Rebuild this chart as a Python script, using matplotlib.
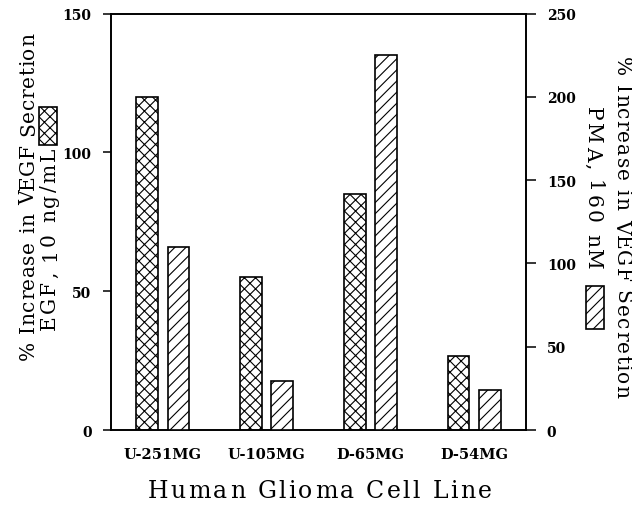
"""Dual-axis hatched bar chart: VEGF secretion increase per glioma cell line."""
import matplotlib
matplotlib.use("Agg")
import matplotlib.pyplot as plt
import numpy as np
from matplotlib.font_manager import FontProperties
from matplotlib.patches import Rectangle
from matplotlib.transforms import IdentityTransform

plt.rcParams["font.family"] = "DejaVu Serif"
plt.rcParams["hatch.linewidth"] = 0.8

cell_lines = ["U-251MG", "U-105MG", "D-65MG", "D-54MG"]
egf_increase = [120, 55, 85, 26.5]    # left axis, EGF 10 ng/mL
pma_increase = [110, 29.5, 225, 24]   # right axis, PMA 160 nM

left_ticks = [0, 50, 100, 150]
right_ticks = [0, 50, 100, 150, 200, 250]

W, H = 632, 506
fig = plt.figure(figsize=(W / 100, H / 100), dpi=100)
ax = fig.add_axes([0.1756, 0.1482, 0.6567, 0.8228])
ax2 = ax.twinx()

x = np.arange(len(cell_lines))
width = 0.21
offset = 0.15

ax.bar(x - offset, egf_increase, width, facecolor="white", edgecolor="black",
       hatch="xxx", linewidth=1.2, zorder=3)
ax2.bar(x + offset, pma_increase, width, facecolor="white", edgecolor="black",
        hatch="///", linewidth=1.2, zorder=3)

ax.set_xlim(-0.5, 3.5)
ax.set_ylim(0, 150)
ax2.set_ylim(0, 250)
ax.set_yticks(left_ticks)
ax2.set_yticks(right_ticks)
ax.set_xticks(x)
ax.set_xticklabels(cell_lines, fontweight="bold", fontsize=10.5)

ax.tick_params(axis="x", length=0, pad=12)
ax.tick_params(axis="y", direction="out", length=6, width=1.1, pad=8,
               labelsize=10)
ax2.tick_params(axis="y", direction="out", length=7, width=1.1, pad=8,
                labelsize=10)
for lab in ax.get_yticklabels() + ax2.get_yticklabels():
    lab.set_fontweight("bold")

for a in (ax, ax2):
    for sp in a.spines.values():
        sp.set_linewidth(1.2)


def spaced_text(s, start, end, base, direction, size=14.5):
    """Letter-spaced label: characters spread evenly from start to end (px,
    measured from the top-left), sitting on the baseline `base`."""
    renderer = fig.canvas.get_renderer()
    prop = FontProperties(family="DejaVu Serif", size=size)
    w_xx = renderer.get_text_width_height_descent("xx", prop, False)[0]
    adv = [renderer.get_text_width_height_descent("x" + c + "x", prop, False)[0]
           - w_xx for c in s]
    gap = (abs(end - start) - sum(adv)) / (len(s) - 1)
    pos = 0.0
    for c, a in zip(s, adv):
        if c != " ":
            if direction == "right":
                xy, rot = (start + pos, H - base), 0
            elif direction == "up":
                xy, rot = (base, H - start + pos), 90
            else:
                xy, rot = (base, H - start - pos), -90
            fig.text(xy[0], xy[1], c, fontproperties=prop, rotation=rot,
                     rotation_mode="anchor", ha="left", va="baseline",
                     transform=IdentityTransform())
        pos += a + gap


spaced_text("Human Glioma Cell Line", 148, 492, 498, "right", size=17)

spaced_text("% Increase in VEGF Secretion", 360, 33, 34, "up")
spaced_text("EGF, 10 ng/mL", 330, 148, 55, "up")
fig.add_artist(Rectangle((39 / W, 1 - 146 / H), 18 / W, 38 / H,
                         transform=fig.transFigure, facecolor="white",
                         edgecolor="black", hatch="xxx", linewidth=1.2))

spaced_text("% Increase in VEGF Secretion", 57, 398, 616, "down")
spaced_text("PMA, 160 nM", 107, 270, 587, "down")
fig.add_artist(Rectangle((586 / W, 1 - 330 / H), 18 / W, 43 / H,
                         transform=fig.transFigure, facecolor="white",
                         edgecolor="black", hatch="///", linewidth=1.2))

fig.savefig("out.png", dpi=100)
